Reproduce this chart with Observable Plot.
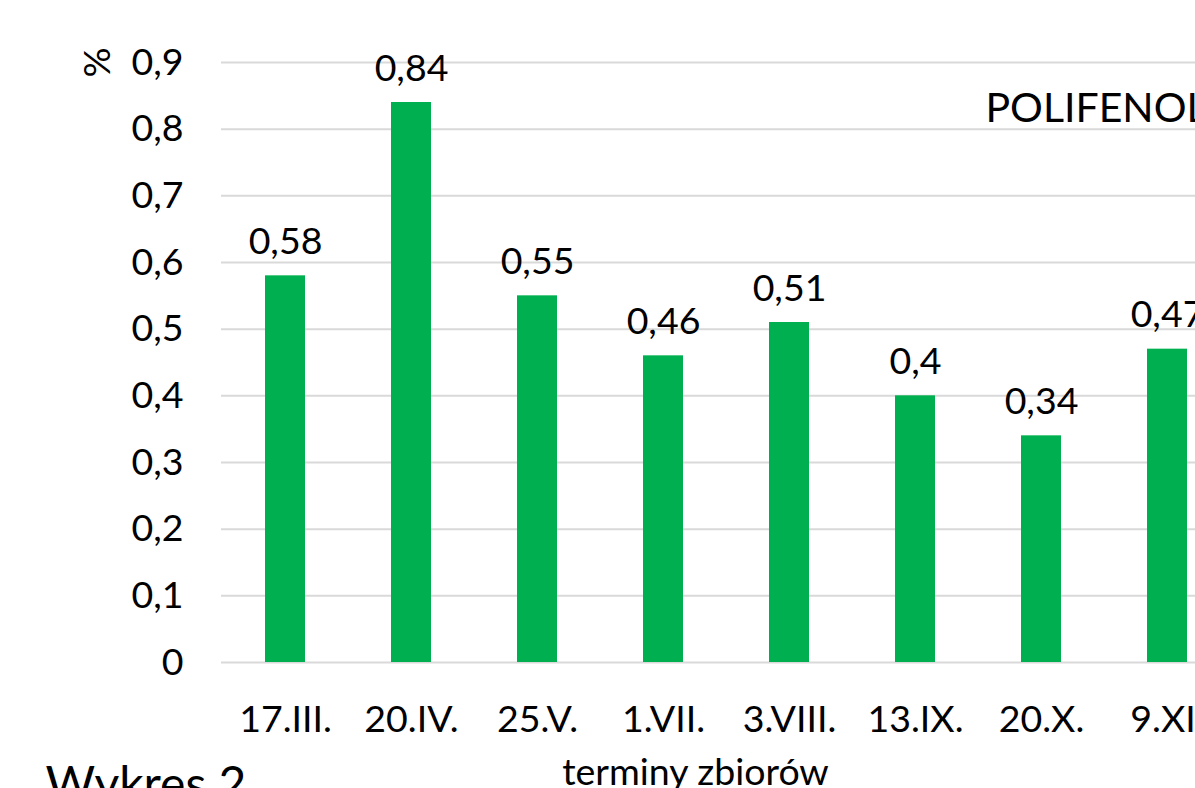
<!DOCTYPE html>
<html>
<head>
<meta charset="utf-8">
<script src="https://cdn.jsdelivr.net/npm/d3@7"></script>
<script src="https://cdn.jsdelivr.net/npm/@observablehq/plot@0.6"></script>
<style>
  html, body { margin: 0; padding: 0; background: #fff; overflow: hidden; width: 1195px; height: 788px; }
  #chart svg { max-width: none !important; }
</style>
</head>
<body>
<div id="chart"></div>
<script>
const categories = ["17.III.", "20.IV.", "25.V.", "1.VII.", "3.VIII.", "13.IX.", "20.X.", "9.XI."];
const values = [0.58, 0.84, 0.55, 0.46, 0.51, 0.4, 0.34, 0.47];
const yTicks = [0, 0.1, 0.2, 0.3, 0.4, 0.5, 0.6, 0.7, 0.8, 0.9];
const yUnit = "%";
const xTitle = "terminy zbiorów";
const seriesTitle = "POLIFENOLE";
const figureTitle = "Wykres 2";

const data = categories.map((c, i) => ({cat: c, v: values[i]}));
const comma = v => String(v).replace(".", ",");

const chart = Plot.plot({
  width: 1241,
  height: 830,
  marginLeft: 221,
  marginRight: 10,
  marginTop: 62,
  marginBottom: 168,
  style: {fontFamily: "Lato, sans-serif", fontSize: "37.5px", color: "#000", background: "#fff", overflow: "visible", maxWidth: "none"},
  x: {domain: categories, paddingInner: 0.683, paddingOuter: 0.3415, align: 0.5, label: null, tickSize: 0, tickPadding: 43},
  y: {domain: [0, 0.9], ticks: yTicks, tickFormat: comma, label: null, tickSize: 0, tickPadding: 38},
  marks: [
    Plot.gridY(yTicks, {stroke: "#d9d9d9", strokeOpacity: 1, strokeWidth: 2}),
    Plot.barY(data, {x: "cat", y: "v", fill: "#00B050"}),
    Plot.text(data, {x: "cat", y: "v", text: d => comma(d.v), dy: -34, lineAnchor: "middle", fill: "#000"}),
    Plot.text([yUnit], {frameAnchor: "top-left", dx: -124, rotate: -90, lineAnchor: "middle", textAnchor: "middle", fill: "#000"}),
    Plot.text([seriesTitle], {frameAnchor: "top-left", dx: 764, dy: 46, textAnchor: "start", lineAnchor: "middle", fontSize: 41, fill: "#000"}),
    Plot.text([xTitle], {frameAnchor: "bottom", dx: -31, dy: 110, lineAnchor: "middle", fill: "#000"}),
    Plot.text([figureTitle], {frameAnchor: "bottom-left", dx: -176, dy: 104, textAnchor: "start", lineAnchor: "top", fontSize: 48, fill: "#000"})
  ]
});
document.getElementById("chart").append(chart);
</script>
</body>
</html>
